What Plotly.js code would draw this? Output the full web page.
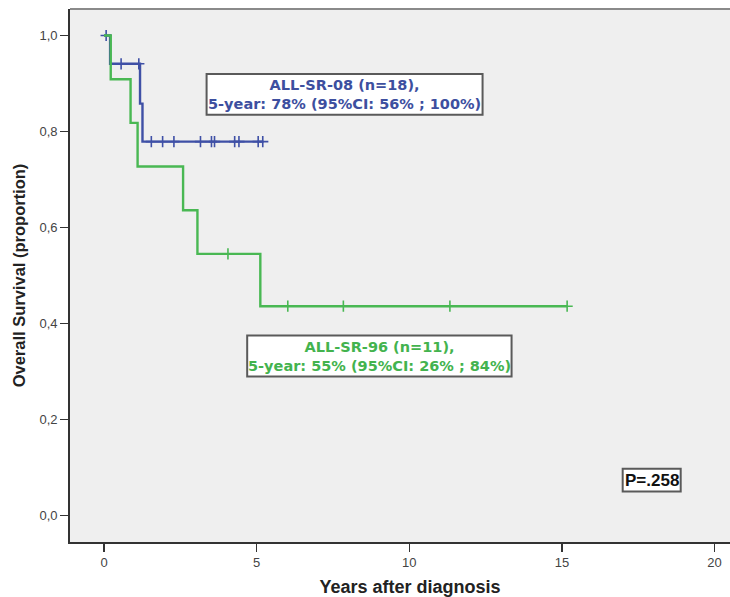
<!DOCTYPE html>
<html>
<head>
<meta charset="utf-8">
<script src="https://cdn.plot.ly/plotly-3.0.1.min.js"></script>
<style>
html,body{margin:0;padding:0;overflow:hidden;background:#fff;}
#chart{width:770px;height:597px;}
</style>
</head>
<body>
<div id="chart"></div>
<script>
// ALL-SR-08 (n=18) Kaplan-Meier steps
const sr08Time = [0, 0.20, 1.18, 1.26, 5.20];
const sr08Surv = [1.0, 0.941, 0.858, 0.779, 0.779];
const sr08CensTime = [0.07, 0.56, 1.14, 1.55, 1.92, 2.29, 3.16, 3.52, 3.62, 4.28, 4.42, 5.05, 5.20];
const sr08CensSurv = [1.0, 0.941, 0.941, 0.779, 0.779, 0.779, 0.779, 0.779, 0.779, 0.779, 0.779, 0.779, 0.779];

// ALL-SR-96 (n=11) Kaplan-Meier steps
const sr96Time = [0, 0.22, 0.87, 1.10, 2.59, 3.06, 5.12, 15.17];
const sr96Surv = [1.0, 0.909, 0.818, 0.727, 0.636, 0.545, 0.436, 0.436];
const sr96CensTime = [4.06, 6.02, 7.84, 11.33, 15.17];
const sr96CensSurv = [0.545, 0.436, 0.436, 0.436, 0.436];

const yTickVals = [0, 0.2, 0.4, 0.6, 0.8, 1.0];
const yTickText = ['0,0', '0,2', '0,4', '0,6', '0,8', '1,0'];
const xTickVals = [0, 5, 10, 15, 20];
const xTickText = ['0', '5', '10', '15', '20'];

const sr08Label = ['ALL-SR-08 (n=18),', '5-year: 78% (95%CI: 56% ; 100%)'];
const sr96Label = ['ALL-SR-96 (n=11),', '5-year: 55% (95%CI: 26% ; 84%)'];
const pLabel = 'P=.258';

const blue = '#3f50a6';
const green = '#49b853';
const blueText = '#3d4f9f';
const greenText = '#43b34e';

const traces = [
  {x: sr08Time, y: sr08Surv, mode: 'lines', line: {shape: 'hv', color: blue, width: 2.4}, hoverinfo: 'skip'},
  {x: sr08CensTime, y: sr08CensSurv, mode: 'markers', marker: {symbol: 'cross-thin-open', size: 8, color: blue, line: {color: blue, width: 1.6}}, hoverinfo: 'skip'},
  {x: sr96Time, y: sr96Surv, mode: 'lines', line: {shape: 'hv', color: green, width: 2.4}, hoverinfo: 'skip'},
  {x: sr96CensTime, y: sr96CensSurv, mode: 'markers', marker: {symbol: 'cross-thin-open', size: 8, color: green, line: {color: green, width: 1.6}}, hoverinfo: 'skip'}
];

const boxFont = (c) => ({family: 'DejaVu Sans, Liberation Sans, sans-serif', size: 14.5, color: c});

const layout = {
  width: 770, height: 597,
  margin: {l: 70, r: 20, t: 9, b: 55},
  paper_bgcolor: '#ffffff',
  plot_bgcolor: '#efefef',
  showlegend: false,
  xaxis: {
    range: [-1.114, 21.16],
    tickvals: xTickVals, ticktext: xTickText,
    ticks: 'outside', ticklen: 8, tickwidth: 1.5, tickcolor: '#333',
    showline: true, linecolor: '#333', linewidth: 1.8,
    showgrid: false, zeroline: false,
    tickfont: {family: 'Liberation Sans, Arial, sans-serif', size: 13, color: '#444'},
    title: {text: '<b>Years after diagnosis</b>', standoff: 12,
      font: {family: 'Liberation Sans, Arial, sans-serif', size: 18, color: '#222'}}
  },
  yaxis: {
    range: [-0.0552, 1.0552],
    tickvals: yTickVals, ticktext: yTickText,
    ticks: 'outside', ticklen: 8, tickwidth: 1.5, tickcolor: '#333',
    showline: true, linecolor: '#333', linewidth: 1.8,
    showgrid: false, zeroline: false,
    tickfont: {family: 'Liberation Sans, Arial, sans-serif', size: 13, color: '#444'},
    title: {text: '<b>Overall Survival (proportion)</b>', standoff: 10,
      font: {family: 'Liberation Sans, Arial, sans-serif', size: 16.5, color: '#222'}}
  },
  shapes: [
    {type: 'line', xref: 'paper', yref: 'paper', x0: 0, x1: 1, y0: 1, y1: 1, line: {color: '#8a8a8a', width: 2}},
    {type: 'rect', xref: 'x', yref: 'y', x0: 3.36, x1: 12.40, y0: 0.835, y1: 0.920, fillcolor: '#ffffff', line: {color: '#5a5a5a', width: 2}, layer: 'above'},
    {type: 'rect', xref: 'x', yref: 'y', x0: 4.69, x1: 13.35, y0: 0.2896, y1: 0.375, fillcolor: '#ffffff', line: {color: '#5a5a5a', width: 2}, layer: 'above'},
    {type: 'rect', xref: 'x', yref: 'y', x0: 16.99, x1: 18.89, y0: 0.05, y1: 0.0973, fillcolor: '#ffffff', line: {color: '#5a5a5a', width: 2}, layer: 'above'}
  ],
  annotations: [
    {x: 7.88, y: 0.8775, text: '<b>' + sr08Label[0] + '</b><br><b>' + sr08Label[1] + '</b>', showarrow: false, xanchor: 'center', yanchor: 'middle', align: 'center', font: boxFont(blueText)},
    {x: 9.02, y: 0.3323, text: '<b>' + sr96Label[0] + '</b><br><b>' + sr96Label[1] + '</b>', showarrow: false, xanchor: 'center', yanchor: 'middle', align: 'center', font: boxFont(greenText)},
    {x: 17.94, y: 0.0735, text: '<b>' + pLabel + '</b>', showarrow: false, xanchor: 'center', yanchor: 'middle', font: {family: 'Liberation Sans, Arial, sans-serif', size: 17, color: '#111'}}
  ]
};

Plotly.newPlot('chart', traces, layout, {staticPlot: true, displayModeBar: false});
</script>
</body>
</html>
